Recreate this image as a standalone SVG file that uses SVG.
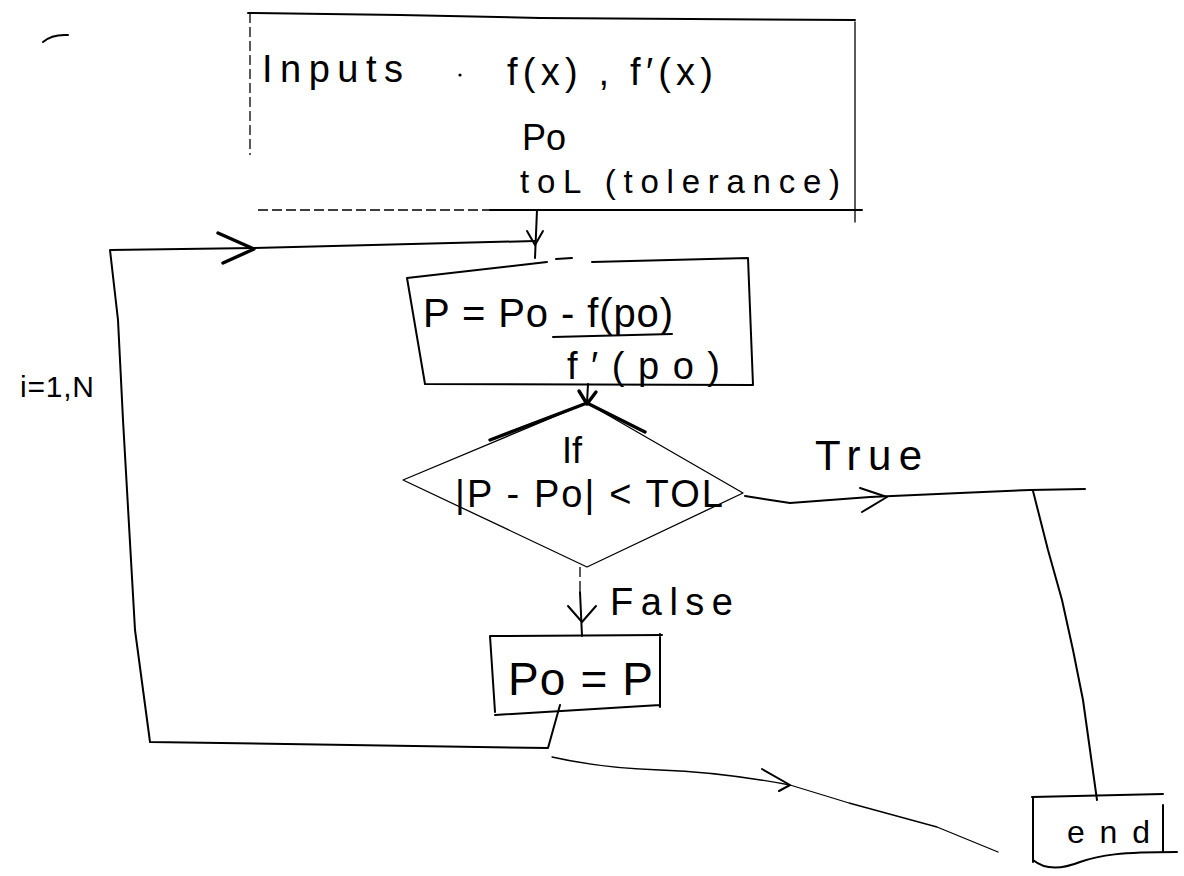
<svg xmlns="http://www.w3.org/2000/svg" width="1184" height="876" viewBox="0 0 1184 876">
<defs>
<style>
.ln{fill:none;stroke:#000;stroke-width:2;stroke-linecap:round;stroke-linejoin:round}
.thin{fill:none;stroke:#000;stroke-width:1.3;stroke-linecap:round;stroke-linejoin:round}
.dash{fill:none;stroke:#000;stroke-width:1.3;stroke-dasharray:10 4}
.thick{fill:none;stroke:#000;stroke-width:3.4;stroke-linecap:round;stroke-linejoin:round}
.t{font-family:"Liberation Sans",Arial,sans-serif;fill:#000}
</style>
</defs>
<rect width="1184" height="876" fill="#fff"/>

<path class="ln" d="M43,42 Q52,34 68,35"/>

<g id="node-inputs">
<path class="ln" d="M248,13 L400,15 L540,18 L855,20"/>
<path class="dash" d="M250,13 L250,155"/>
<path class="thin" d="M855,22 L855,222"/>
<path class="dash" d="M258,210 L490,210"/>
<path class="ln" d="M490,210 L862,210"/>
<text class="t" x="262" y="82" font-size="38" textLength="141" lengthAdjust="spacing">Inputs</text>
<circle cx="460" cy="75" r="1.6" fill="#000"/>
<text class="t" x="507" y="85" font-size="38" textLength="206" lengthAdjust="spacing">f(x) , f′(x)</text>
<text class="t" x="522" y="150" font-size="36">Po</text>
<text class="t" x="520" y="193" font-size="33" textLength="320" lengthAdjust="spacing">toL (tolerance)</text>
</g>

<g id="node-update">
<path class="ln" d="M407,278 L547,262 M556,259 L572,258 M592,262 L748,258 L753,385 L425,384 L407,278"/>
<text class="t" x="423" y="327" font-size="40" textLength="250" lengthAdjust="spacing">P = Po - f(po)</text>
<path class="ln" d="M553,337 L672,334"/>
<text class="t" x="567" y="379" font-size="38" textLength="153" lengthAdjust="spacing">f′(po)</text>
</g>

<g id="node-decision">
<path class="thin" d="M587,403 L743,493 L587,567 L403,480 Z"/>
<path class="thick" d="M587,403 L490,440 M587,403 L645,432"/>
<text class="t" x="572" y="463" font-size="36" text-anchor="middle">If</text>
<text class="t" x="455" y="507" font-size="38" textLength="268" lengthAdjust="spacing">|P - Po| &lt; TOL</text>
</g>

<g id="node-assign">
<path class="ln" d="M490,636 L662,635 M490,636 L495,712 M660,634 L660,707 M495,715 L660,705"/>
<text class="t" x="508" y="695" font-size="46" textLength="145" lengthAdjust="spacing">Po = P</text>
</g>

<g id="node-end">
<path class="ln" d="M1032,797 L1163,794 M1033,797 L1033,862 M1163,805 L1163,852 M1033,860 C1045,870 1060,870 1080,862 C1100,855 1120,852 1177,852"/>
<text class="t" x="1067" y="843" font-size="32" textLength="83" lengthAdjust="spacing">end</text>
</g>

<g id="connectors">
<path class="ln" d="M537,210 L535,258"/>
<path class="ln" d="M527,231 L535,245 L543,231"/>
<path class="ln" d="M560,705 L548,748 L150,742 L135,630 L123,420 L118,320 L110,250 L254,248 L535,241"/>
<path class="thick" d="M218,233 L254,249 L223,263"/>
<path class="ln" d="M588,384 L587,403"/>
<path class="thick" d="M579,391 L587,404 L596,392"/>
<path class="ln" d="M745,496 L790,503 L870,497 L960,493 L1030,490 L1085,489"/>
<path class="ln" d="M860,488 L887,497 L862,512"/>
<path class="ln" d="M1033,491 L1048,550 L1062,600 L1073,650 L1083,700 L1090,750 L1097,800"/>
<path class="dash" d="M580,567 L580,592"/>
<path class="ln" d="M580,592 L582,636"/>
<path class="ln" d="M568,606 L582,622 L596,606"/>
<path class="thin" d="M552,757 Q600,768 660,770 T790,785 L849,803 L937,827 L998,852"/>
<path class="ln" d="M762,769 L790,785 L779,791"/>
</g>

<g id="labels">
<text class="t" x="815" y="470" font-size="42" textLength="107" lengthAdjust="spacing">True</text>
<text class="t" x="610" y="615" font-size="38" textLength="123" lengthAdjust="spacing">False</text>
<text class="t" x="20" y="397" font-size="30" textLength="74" lengthAdjust="spacing">i=1,N</text>
</g>
</svg>
